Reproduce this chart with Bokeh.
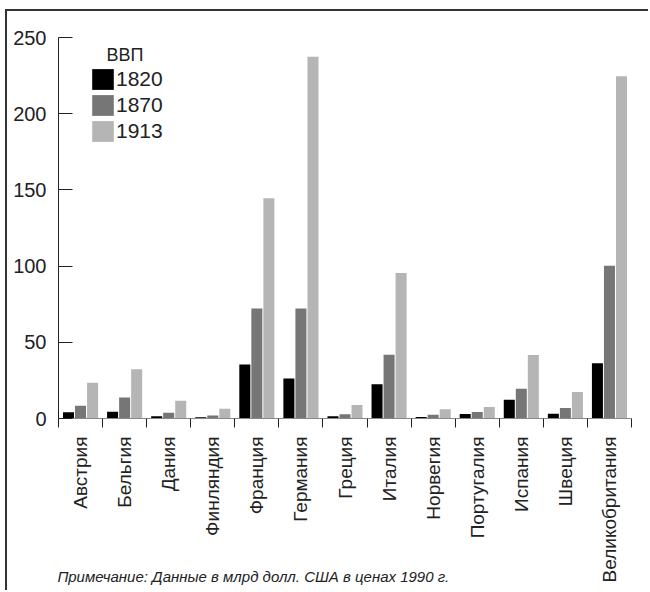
import math
from bokeh.plotting import figure
from bokeh.models import FixedTicker, Legend, LegendItem, Label, Range1d, ColumnDataSource
from bokeh.transform import dodge
from bokeh.embed import file_html
from bokeh.resources import INLINE

countries = ["Австрия", "Бельгия", "Дания", "Финляндия", "Франция", "Германия", "Греция",
             "Италия", "Норвегия", "Португалия", "Испания", "Швеция", "Великобритания"]
gdp_1820 = [4.1, 4.5, 1.5, 0.9, 35.5, 26.3, 1.5, 22.5, 1.0, 3.0, 12.3, 3.1, 36.2]
gdp_1870 = [8.4, 13.7, 3.8, 1.9, 72.1, 72.1, 2.8, 41.8, 2.5, 4.3, 19.6, 6.9, 100.2]
gdp_1913 = [23.5, 32.3, 11.7, 6.4, 144.5, 237.3, 8.9, 95.5, 6.1, 7.5, 41.6, 17.4, 224.6]
years = ["1820", "1870", "1913"]
y_ticks = [0, 50, 100, 150, 200, 250]
legend_title = "ВВП"
note = "Примечание: Данные в млрд долл. США в ценах 1990 г."

colors = ["#000000", "#767676", "#b5b5b5"]
FONT = "Liberation Sans"
TXT = "#222222"
NBSP_PAD = 44  # trailing no-break spaces so the centred axis label starts at the frame's left

src = ColumnDataSource(dict(idx=list(range(len(countries))), v1820=gdp_1820,
                            v1870=gdp_1870, v1913=gdp_1913))

p = figure(width=643, height=581, x_range=Range1d(-0.5, len(countries) - 0.5),
           y_range=Range1d(0, 250), output_backend="svg", toolbar_location=None,
           min_border_left=51, min_border_right=19, min_border_top=26, min_border_bottom=174)
p.styles = {"border-left": "2px solid #333333", "border-top": "2px solid #333333",
            "margin-left": "5px", "margin-top": "9px"}
p.grid.visible = False
p.outline_line_color = None
p.background_fill_color = "white"
p.border_fill_color = "white"

renderers = []
for k, (col, c) in enumerate(zip(["v1820", "v1870", "v1913"], colors)):
    r = p.vbar(x=dodge("idx", (k - 1) * 0.273), top=col, width=0.25, bottom=0,
               fill_color=c, line_color=None, source=src)
    renderers.append(r)

# x axis
xa = p.xaxis[0]
xa.ticker = FixedTicker(ticks=list(range(len(countries))),
                        minor_ticks=[i - 0.5 for i in range(len(countries) + 1)])
xa.major_label_overrides = {i: n for i, n in enumerate(countries)}
xa.major_tick_in = 0
xa.major_tick_out = 0
xa.major_tick_line_color = None
xa.minor_tick_in = 0
xa.minor_tick_out = 9
xa.minor_tick_line_color = "#222222"
xa.minor_tick_line_width = 1
xa.axis_line_color = "#888888"
xa.axis_line_width = 1
xa.major_label_orientation = math.pi / 2
xa.major_label_standoff = 9
xa.major_label_text_font = FONT
xa.major_label_text_font_size = "19px"
xa.major_label_text_color = TXT
xa.axis_label = note + "\u00a0" * NBSP_PAD
xa.axis_label_standoff = -17
xa.axis_label_text_font = FONT
xa.axis_label_text_font_size = "15px"
xa.axis_label_text_font_style = "italic"
xa.axis_label_text_color = TXT

# y axis
ya = p.yaxis[0]
ya.ticker = FixedTicker(ticks=y_ticks)
ya.bounds = (0, 250)
ya.major_tick_in = 14
ya.major_tick_out = 0
ya.major_tick_line_color = "#222222"
ya.minor_tick_line_color = None
ya.axis_line_color = "#222222"
ya.major_label_standoff = 12
ya.major_label_text_font = FONT
ya.major_label_text_font_size = "20px"
ya.major_label_text_color = TXT

legend = Legend(items=[LegendItem(label=y, renderers=[r]) for y, r in zip(years, renderers)],
                location=(31, 274), padding=0, margin=0, spacing=0,
                glyph_width=27, glyph_height=26, label_standoff=0,
                label_text_font=FONT, label_text_font_size="21px", label_text_color=TXT,
                border_line_color=None, background_fill_alpha=0)
p.add_layout(legend)

p.add_layout(Label(x=0.59, y=238.8, text=legend_title, text_font=FONT, text_font_size="18px",
                   text_color=TXT, text_baseline="alphabetic"))

open("out.html", "w").write(file_html(p, INLINE))
